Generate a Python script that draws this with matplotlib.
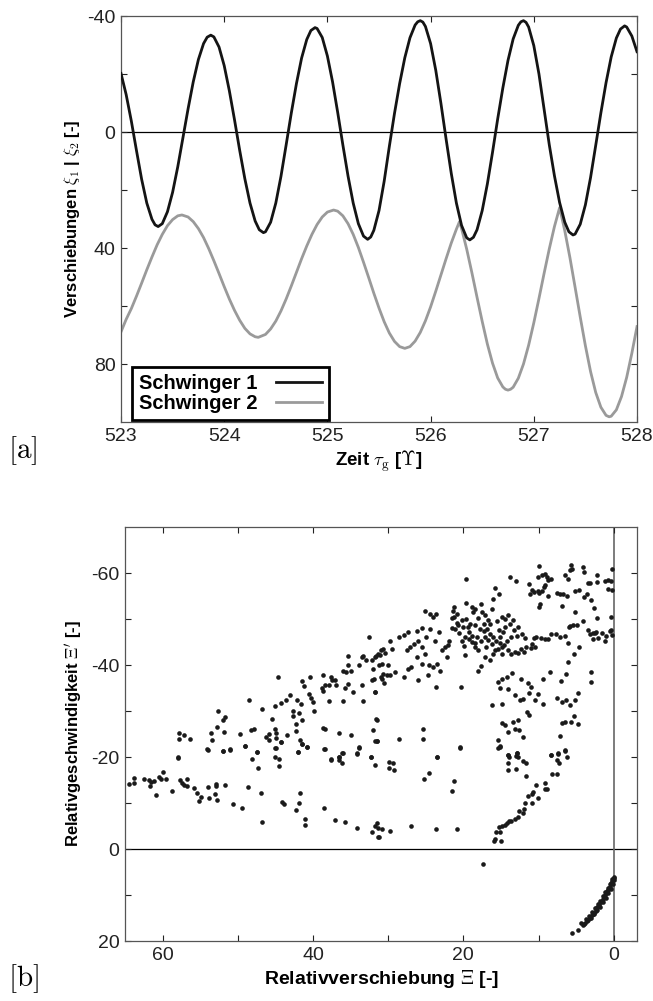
import numpy as np
import matplotlib
matplotlib.use("Agg")
import matplotlib.pyplot as plt

plt.rcParams["font.family"] = ["Liberation Sans", "DejaVu Sans"]
plt.rcParams["mathtext.fontset"] = "cm"

# --- panel a: displacements of both oscillators over time ---
t = [523.00, 523.05, 523.10, 523.15, 523.20, 523.25, 523.30, 523.33, 523.36, 523.40, 523.45,
     523.50, 523.55, 523.60, 523.65, 523.70, 523.75, 523.80, 523.835, 523.87, 523.90, 523.95,
     524.00, 524.05, 524.10, 524.15, 524.20, 524.25, 524.30, 524.34, 524.38, 524.40, 524.45,
     524.50, 524.55, 524.60, 524.65, 524.70, 524.75, 524.80, 524.84, 524.88, 524.90, 524.95,
     525.00, 525.05, 525.10, 525.15, 525.20, 525.25, 525.30, 525.35, 525.39, 525.42, 525.45,
     525.50, 525.55, 525.60, 525.65, 525.70, 525.75, 525.80, 525.85, 525.875, 525.90, 525.925, 525.95,
     526.00, 526.05, 526.10, 526.15, 526.20, 526.25, 526.30, 526.35, 526.38, 526.415, 526.45,
     526.50, 526.55, 526.60, 526.65, 526.70, 526.75, 526.80, 526.85, 526.875, 526.90, 526.925, 526.95,
     527.00, 527.05, 527.10, 527.15, 527.20, 527.25, 527.30, 527.34, 527.38, 527.40, 527.45,
     527.50, 527.55, 527.60, 527.65, 527.70, 527.75, 527.80, 527.84, 527.88, 527.90, 527.95,
     528.00]

xi1 = [-20.2, -12.9, -3.8, 6.4, 16.3, 24.5, 30.1, 32.0, 32.6, 31.6, 27.5,
       20.8, 12.0, 2.0, -8.0, -17.3, -25.0, -30.5, -32.7, -33.4, -32.8, -29.3,
       -22.9, -14.2, -4.2, 6.3, 16.1, 24.5, 30.7, 33.7, 34.7, 34.4, 31.1,
       24.5, 15.3, 4.5, -6.5, -16.7, -25.5, -31.9, -35.0, -36.0, -35.7, -32.6,
       -26.2, -17.3, -6.7, 4.5, 15.2, 24.5, 31.6, 35.9, 37.0, 36.2, 33.9,
       27.1, 17.0, 5.0, -6.4, -16.7, -25.6, -32.5, -36.9, -38.0, -38.4, -37.9, -36.4,
       -30.5, -21.3, -9.9, 2.4, 14.2, 24.5, 32.2, 36.5, 37.2, 36.3, 33.7,
       27.1, 17.9, 7.0, -4.5, -15.2, -24.7, -32.1, -36.8, -38.0, -38.4, -37.8, -36.2,
       -29.8, -20.0, -7.8, 4.4, 15.1, 24.3, 31.1, 34.4, 35.5, 35.2, 31.8,
       25.1, 15.7, 4.6, -6.6, -17.0, -25.9, -32.4, -35.5, -36.6, -36.2, -33.1,
       -27.7]

t2 = [523.00, 523.05, 523.10, 523.15, 523.20, 523.25, 523.30, 523.35, 523.40, 523.45,
      523.50, 523.55, 523.59, 523.65, 523.70, 523.75, 523.80, 523.85, 523.90, 523.95,
      524.00, 524.05, 524.10, 524.15, 524.20, 524.25, 524.30, 524.33, 524.40, 524.45,
      524.50, 524.55, 524.60, 524.65, 524.70, 524.75, 524.80, 524.85, 524.90, 524.95,
      525.00, 525.06, 525.10, 525.15, 525.20, 525.25, 525.30, 525.35, 525.40, 525.45,
      525.50, 525.55, 525.60, 525.65, 525.70, 525.75, 525.80, 525.85, 525.90, 525.95,
      526.00, 526.05, 526.10, 526.15, 526.20, 526.25, 526.28, 526.30, 526.35, 526.40,
      526.45, 526.50, 526.55, 526.60, 526.65, 526.70, 526.725, 526.75, 526.775, 526.80,
      526.85, 526.90, 526.95, 527.00, 527.05, 527.10, 527.15, 527.20, 527.25, 527.30,
      527.35, 527.40, 527.45, 527.50, 527.55, 527.60, 527.65, 527.70, 527.73, 527.75,
      527.80, 527.85, 527.90, 527.95, 528.00]

xi2 = [68.9, 64.6, 60.9, 56.6, 52.1, 47.5, 43.1, 38.9, 35.3, 32.3,
       30.2, 28.9, 28.6, 29.3, 30.9, 33.3, 36.4, 40.2, 44.4, 48.8,
       53.3, 57.6, 61.5, 64.9, 67.7, 69.6, 70.6, 70.8, 69.8, 67.9,
       65.2, 61.7, 57.6, 53.1, 48.4, 43.7, 39.3, 35.3, 31.9, 29.3,
       27.6, 26.9, 27.3, 28.9, 31.6, 35.3, 39.8, 44.9, 50.2, 55.6,
       60.7, 65.4, 69.3, 72.2, 74.0, 74.6, 74.0, 72.1, 69.1, 65.1,
       60.3, 54.9, 49.3, 43.7, 38.3, 33.5, 30.9, 33.3, 40.4, 48.5,
       57.0, 65.3, 73.1, 79.7, 84.8, 87.9, 88.7, 89.0, 88.7, 88.0,
       84.9, 80.0, 73.5, 65.8, 57.4, 48.7, 40.3, 32.6, 26.1, 34.0,
       43.3, 53.5, 63.8, 73.7, 82.6, 89.8, 94.9, 97.7, 98.2, 98.0,
       95.8, 91.2, 84.6, 76.3, 67.1]

# --- panel b: phase plot relative displacement vs relative velocity ---
upper_band = [
    (32.5, -46.1), (44.7, -37.4), (48.5, -32.3), (46.8, -30.4), (52.6, -30.0), (52.0, -28.0),
    (51.7, -28.8), (52.7, -26.6), (51.8, -25.5), (53.5, -25.3), (53.4, -23.6), (57.8, -25.3),
    (57.8, -24.0), (57.2, -24.8), (56.4, -24.0), (54.1, -21.7), (51.9, -21.4), (51.0, -21.7),
    (58.0, -19.9), (49.7, -25.0), (49.0, -22.4), (48.2, -25.8), (47.8, -26.0), (47.4, -21.1),
    (46.3, -24.4), (45.9, -23.8), (45.8, -24.9), (45.5, -28.2), (45.0, -31.1), (44.3, -31.7),
    (43.6, -32.5), (43.0, -33.4), (45.0, -26.2), (44.9, -25.3), (44.9, -24.2), (44.9, -22.0),
    (44.2, -23.3), (43.4, -24.8), (42.6, -30.0), (42.6, -28.9), (41.8, -29.6), (41.6, -31.6),
    (42.1, -32.5), (42.2, -27.2), (42.3, -25.7), (41.5, -28.1), (41.4, -36.6), (41.2, -35.4),
    (40.4, -37.4), (40.5, -33.8), (40.2, -32.9), (40.0, -32.0), (39.8, -30.0), (41.7, -23.7),
    (41.5, -22.9), (40.8, -22.2), (42.0, -21.1), (38.7, -37.9), (38.8, -34.9), (38.7, -34.3),
    (38.4, -35.6), (37.9, -35.6), (37.6, -37.3), (37.1, -36.8), (36.9, -35.6), (37.4, -36.7),
    (37.9, -32.1), (38.7, -26.4), (38.4, -26.1), (38.4, -21.7), (36.5, -25.3), (36.0, -38.8),
    (35.6, -38.5), (35.4, -42.0), (35.3, -39.9), (34.9, -38.8), (35.7, -35.0), (35.4, -35.9),
    (36.0, -32.1), (35.0, -24.8), (34.7, -34.1), (33.9, -40.1), (33.5, -41.7), (33.3, -41.9),
    (32.9, -41.2), (33.5, -35.6), (33.3, -32.1), (32.2, -41.2), (32.0, -39.1), (32.2, -36.7),
    (31.9, -37.0), (31.8, -34.2), (31.6, -41.9), (31.3, -42.5), (30.9, -43.2), (30.7, -43.4),
    (31.2, -39.9), (30.8, -40.3), (30.9, -37.3), (30.7, -38.0), (31.6, -28.2), (32.0, -25.8),
    (31.5, -23.5), (36.5, -19.9), (36.0, -20.9), (37.6, -19.6), (34.1, -20.8), (33.9, -22.1),
    (32.3, -19.9),
    (31.7, -41.7), (31.1, -42.1), (30.4, -42.6), (29.7, -45.3), (29.5, -43.5), (30.0, -39.9),
    (30.2, -37.8), (29.7, -37.8), (29.1, -38.5), (28.6, -46.1), (27.9, -46.6), (27.3, -47.1),
    (27.5, -43.2), (27.1, -43.9), (26.6, -44.6), (26.0, -45.3), (25.5, -43.9), (25.1, -42.5),
    (26.2, -41.7), (26.9, -39.6), (25.5, -40.3), (24.6, -39.9), (24.0, -39.6), (23.5, -40.3),
    (23.1, -38.8), (22.9, -43.2), (22.4, -43.9), (22.0, -44.3), (22.2, -41.7), (23.3, -47.1),
    (24.4, -47.9), (25.5, -48.1), (26.2, -47.5), (24.9, -46.1), (23.8, -45.3), (26.0, -36.7),
    (24.7, -37.8), (27.3, -39.2), (27.9, -37.4), (30.8, -37.0), (30.6, -36.0),
]

dense_band = [
    (18.9, -52.6), (18.7, -51.5), (18.5, -52.2), (17.6, -53.3), (17.5, -51.5), (17.1, -50.8),
    (16.7, -49.7), (16.2, -52.2), (16.0, -54.4), (15.8, -56.8), (15.3, -55.5), (14.9, -50.4),
    (14.5, -50.0), (14.0, -50.8), (13.8, -49.0), (13.4, -49.7), (12.7, -48.2), (12.9, -46.4),
    (13.6, -46.1), (14.2, -45.3), (14.9, -43.9), (15.8, -43.2), (16.2, -44.6), (16.7, -45.5),
    (17.1, -46.1), (17.6, -45.3), (18.0, -43.2), (18.5, -43.9), (18.9, -45.0), (19.3, -45.7),
    (19.8, -46.1), (20.0, -48.2), (20.7, -48.6), (21.1, -47.9), (20.9, -49.1), (20.2, -49.7),
    (19.6, -50.0), (19.1, -49.0), (18.5, -48.6), (17.8, -47.9), (17.3, -47.5), (16.8, -47.9),
    (16.5, -46.8), (16.0, -46.1), (15.6, -45.3), (15.1, -46.1), (14.7, -47.1), (19.2, -47.1),
    (18.8, -46.4), (18.2, -46.1), (21.5, -50.3), (21.2, -50.5), (21.9, -45.3), (21.5, -48.1),
    (20.2, -45.3), (21.3, -52.7), (21.4, -51.7), (19.8, -42.1), (17.1, -41.7), (16.5, -41.0),
    (17.6, -39.7), (18.0, -38.8), (20.3, -35.2), (23.7, -35.2), (25.1, -51.8), (24.4, -51.1),
    (24.0, -50.4), (23.7, -51.0), (19.6, -58.8),
    (19.4, -48.3), (18.1, -50.2), (17.2, -49.0), (16.4, -48.9), (15.5, -49.6), (15.2, -47.6),
    (14.4, -48.3), (13.3, -47.7), (12.2, -46.8), (11.8, -45.9), (20.6, -46.9), (19.9, -44.2),
    (18.4, -44.8), (17.0, -44.0), (16.1, -42.4), (14.8, -42.4), (20.8, -51.2), (19.7, -53.4),
    (9.9, -61.6), (5.7, -61.8), (5.5, -60.9), (5.8, -60.7), (4.1, -61.4), (4.0, -60.2),
    (2.2, -59.6), (0.2, -60.9), (10.1, -59.2), (9.6, -59.6), (9.1, -59.8), (8.9, -59.1),
    (8.8, -58.5), (9.1, -57.4), (9.3, -56.9), (9.6, -56.2), (8.3, -58.7), (6.5, -59.5),
    (6.1, -58.8), (13.8, -59.2), (13.0, -58.2), (11.2, -57.6), (10.8, -56.4), (10.6, -55.8),
    (10.1, -56.0), (10.0, -55.6), (11.1, -55.4), (7.6, -55.6), (7.1, -55.5), (6.7, -55.5),
    (6.2, -55.1), (5.2, -56.0), (4.6, -56.4), (3.4, -57.8), (3.1, -57.8), (2.2, -58.0),
    (1.2, -58.3), (0.8, -58.4), (0.4, -58.3), (0.8, -56.5), (0.2, -56.3), (8.7, -54.9),
    (9.8, -53.3), (10.0, -52.6), (6.9, -52.8), (5.2, -51.6), (4.0, -54.7), (3.0, -54.2),
    (2.6, -52.3), (2.2, -50.3), (3.6, -55.5), (0.3, -50.4),
    (5.8, -48.4), (4.9, -48.8), (4.1, -49.5), (3.4, -47.7), (2.7, -47.0), (2.3, -47.1),
    (1.6, -47.0), (1.0, -46.3), (0.5, -47.5), (0.3, -47.7), (0.2, -46.6), (1.2, -45.3),
    (2.1, -45.9), (2.7, -45.7), (2.5, -47.0), (3.1, -46.7), (7.7, -46.8), (7.2, -46.1),
    (6.5, -46.3), (6.0, -48.2), (5.4, -48.8), (4.6, -44.0), (6.1, -44.8), (8.3, -46.8),
    (8.7, -45.6), (9.2, -45.6), (9.7, -45.8), (10.3, -46.1), (10.6, -45.9), (10.9, -44.5),
    (10.5, -44.0), (11.0, -43.7), (11.6, -44.0), (12.3, -43.5), (11.9, -42.8), (12.7, -42.6),
    (13.1, -42.8), (13.7, -42.3), (14.0, -43.2), (14.6, -44.3), (15.1, -44.8), (15.4, -43.5),
]

inner_loops = [
    (15.4, -36.3), (14.9, -37.0), (14.2, -37.5), (15.1, -34.9), (14.0, -34.7), (13.5, -38.3),
    (12.3, -37.0), (11.4, -36.1), (11.0, -35.2), (11.3, -33.9), (12.0, -32.7), (13.1, -33.4),
    (12.5, -32.3), (10.1, -33.6), (10.5, -32.5), (9.4, -31.6), (8.5, -38.5), (9.4, -37.0),
    (7.5, -32.9), (6.9, -32.0), (6.3, -32.3), (5.8, -31.3), (5.2, -32.5), (4.7, -34.0),
    (6.3, -38.1), (6.1, -40.6), (5.3, -42.5), (7.0, -36.5), (3.0, -38.5), (3.0, -36.3),
    (16.2, -31.3), (14.8, -31.5), (11.5, -29.8), (11.2, -29.1), (14.9, -27.3), (14.5, -26.9),
    (14.0, -25.5), (13.4, -27.7), (12.7, -28.0), (13.1, -26.0), (12.6, -25.8), (12.0, -24.3),
    (15.4, -23.8), (15.1, -22.1), (14.0, -20.4), (12.9, -20.8), (12.7, -20.1), (6.9, -27.3),
    (6.5, -27.7), (5.7, -27.7), (5.3, -28.9), (4.7, -27.1), (7.1, -24.5), (8.4, -20.4),
    (7.4, -20.9), (6.5, -21.5), (31.5, -28.0), (31.5, -23.5), (28.5, -24.0), (25.4, -26.0),
    (25.4, -23.9), (23.5, -19.9), (20.5, -22.1), (31.7, -34.2),
]

lower_band = [
    (64.5, -14.2), (63.8, -15.5), (63.8, -14.4), (62.5, -15.3), (61.8, -14.9), (61.7, -13.8),
    (61.5, -14.6), (61.2, -14.7), (60.9, -11.7), (60.5, -15.7), (60.2, -15.2), (59.9, -16.7),
    (59.6, -15.3), (58.8, -12.7), (58.0, -19.8), (57.7, -14.9), (57.4, -14.4), (57.1, -14.0),
    (56.7, -15.2), (56.8, -13.7), (55.8, -13.3), (55.4, -12.1), (55.2, -10.5), (54.9, -11.3),
    (53.9, -13.4), (53.8, -11.2), (54.0, -21.6), (52.9, -14.2), (52.9, -13.6), (53.0, -11.9),
    (52.7, -10.6), (51.9, -21.3), (51.0, -21.6), (51.7, -14.0), (50.6, -9.7), (49.5, -9.0),
    (49.1, -22.3), (48.7, -13.4), (48.1, -19.6), (47.5, -21.0), (47.3, -17.7), (46.9, -12.1),
    (46.8, -5.8), (45.0, -21.9), (45.0, -20.0), (44.5, -19.6), (44.5, -18.1), (44.1, -10.2),
    (43.9, -9.7), (44.2, -23.2), (42.3, -8.5), (42.0, -21.0), (41.9, -10.1), (41.7, -12.1),
    (41.4, -22.9), (41.1, -6.6), (41.0, -5.3), (40.8, -22.2), (38.5, -21.7), (38.5, -8.9),
    (37.6, -19.4), (37.1, -6.4), (36.6, -19.4), (36.5, -19.9), (36.1, -18.7), (36.1, -20.9),
    (35.7, -5.9), (34.1, -20.7), (33.9, -22.0), (34.1, -4.5), (32.3, -19.9), (31.8, -18.3),
    (32.2, -3.8), (31.7, -5.0), (31.5, -5.6), (31.3, -4.6), (31.3, -2.6), (30.8, -4.3),
    (31.7, -23.4), (31.2, -2.7), (29.8, -3.9), (26.9, -5.1), (23.7, -4.3), (20.8, -4.3),
    (29.9, -19.0), (29.4, -18.6), (29.9, -17.6), (29.2, -17.1), (25.2, -15.2), (24.5, -16.6),
    (23.5, -20.0), (21.2, -14.7), (21.5, -12.6), (20.5, -22.0),
]

return_branch = [
    (15.9, -1.8), (15.8, -2.2), (15.6, -3.6), (15.3, -4.7), (15.1, -3.6), (15.0, -1.7),
    (14.8, -5.0), (14.4, -5.2), (14.2, -5.7), (13.9, -6.1), (13.6, -6.1), (13.1, -6.5),
    (12.7, -6.9), (12.6, -8.3), (12.0, -7.9), (11.9, -8.8), (11.8, -10.1), (11.4, -11.5),
    (10.9, -11.9), (10.7, -12.3), (10.8, -9.9), (10.1, -11.2), (10.3, -13.9), (9.2, -14.3),
    (8.9, -13.1), (9.1, -13.1), (8.2, -16.4), (7.6, -16.4), (8.4, -20.4), (7.4, -20.7),
    (7.5, -19.4), (7.3, -18.8), (6.5, -21.4), (6.2, -20.1), (15.4, -21.9), (15.1, -22.4),
    (14.1, -20.4), (13.9, -19.9), (14.1, -18.6), (14.1, -17.2), (13.0, -17.5), (13.0, -20.2),
    (12.8, -20.9), (12.0, -19.1), (11.7, -18.8), (11.7, -15.8), (17.4, 3.2),
]

sticking_arc = [
    (5.6, 18.3), (4.7, 17.5), (4.1, 16.5), (3.9, 16.2), (3.8, 16.0), (3.6, 15.7),
    (3.4, 15.4), (3.2, 15.0), (3.1, 14.7), (2.9, 14.4), (2.7, 14.1), (2.6, 13.8),
    (2.4, 13.4), (2.3, 13.0), (2.2, 12.6), (2.0, 12.3), (1.9, 11.9), (1.7, 11.5),
    (1.5, 11.2), (1.4, 10.8), (1.3, 10.5), (1.1, 10.0), (1.0, 9.6), (0.9, 9.2),
    (0.8, 8.9), (0.6, 8.5), (0.5, 8.2), (0.4, 7.7), (0.3, 7.3), (0.2, 6.9),
    (0.1, 6.6), (0.0, 6.3), (0.0, 6.0),
    (4.3, 16.1), (3.7, 15.2), (3.3, 14.5), (2.9, 13.7), (2.5, 12.9), (2.1, 12.0),
    (1.8, 11.3), (1.4, 10.3), (1.1, 9.4), (0.8, 8.4), (0.5, 7.5), (0.2, 6.5),
    (3.0, 14.9), (2.6, 14.2), (2.2, 13.3), (1.8, 12.5), (1.4, 11.6), (1.0, 10.6),
    (0.7, 9.6), (0.4, 8.6), (0.1, 7.5), (-0.1, 6.8),
]

fig = plt.figure(figsize=(6.53, 10.01), dpi=100)

# ---- panel a ----
ax1 = fig.add_axes([0.1853, 0.5784, 0.7902, 0.4056])
ax1.axhline(0, color="black", lw=0.9, zorder=1)
l1, = ax1.plot(t, xi1, color="#141414", lw=2.0, label="Schwinger 1", zorder=3,
               solid_joinstyle="round")
l2, = ax1.plot(t2, xi2, color="#9a9a9a", lw=2.0, label="Schwinger 2", zorder=2,
               solid_joinstyle="round")
ax1.set_xlim(523, 528)
ax1.set_ylim(100, -40)
ax1.set_xticks([523, 524, 525, 526, 527, 528])
ax1.set_yticks([-40, -20, 0, 20, 40, 60, 80])
ax1.set_yticklabels(["-40", "", "0", "", "40", "", "80"])
ax1.tick_params(direction="in", length=4, width=0.8, top=True, right=True,
                labelsize=14, colors="#222222", pad=4)
ax1.set_xlabel(r"Zeit $\tau_\mathrm{g}$ [$\Upsilon$]", fontsize=13.5, fontweight="bold", labelpad=3)
ax1.set_ylabel(r"Verschiebungen $\xi_1$ | $\xi_2$ [-]", fontsize=12, fontweight="bold", labelpad=4)
for sp in ax1.spines.values():
    sp.set_color("#555555")
    sp.set_linewidth(0.9)
leg = ax1.legend(handles=[l1, l2], loc="lower left", bbox_to_anchor=(0.021, 0.005),
                 borderaxespad=0, markerfirst=False, fancybox=False, framealpha=1,
                 edgecolor="black", prop={"weight": "bold", "size": 14.5},
                 handlelength=2.3, handletextpad=0.9, borderpad=0.35, labelspacing=0.05)
leg.get_frame().set_linewidth(2.0)

# ---- panel b ----
ax2 = fig.add_axes([0.1914, 0.0599, 0.7841, 0.4136])
ax2.axhline(0, color="black", lw=0.9, zorder=1)
ax2.axvline(0, color="#666666", lw=1.2, zorder=1)
for group in [upper_band, dense_band, inner_loops, lower_band, return_branch, sticking_arc]:
    pts = np.array(group)
    ax2.scatter(pts[:, 0], pts[:, 1], s=11, color="#1a1a1a", linewidths=0, zorder=3)
ax2.set_xlim(65, -3.1)
ax2.set_ylim(20, -70)
ax2.set_xticks([60, 50, 40, 30, 20, 10, 0])
ax2.set_xticklabels(["60", "", "40", "", "20", "", "0"])
ax2.set_yticks([-60, -50, -40, -30, -20, -10, 0, 10, 20])
ax2.set_yticklabels(["-60", "", "-40", "", "-20", "", "0", "", "20"])
ax2.tick_params(direction="in", length=4, width=0.8, top=True, right=True,
                labelsize=14, colors="#222222", pad=4)
ax2.set_xlabel(r"Relativverschiebung $\Xi$ [-]", fontsize=14, fontweight="bold", labelpad=3)
ax2.set_ylabel(r"Relativgeschwindigkeit $\Xi'$ [-]", fontsize=12, fontweight="bold", labelpad=4)
for sp in ax2.spines.values():
    sp.set_color("#555555")
    sp.set_linewidth(0.9)

fig.text(0.012, 0.542, r"$[\mathrm{a}]$", fontsize=21)
fig.text(0.012, 0.015, r"$[\mathrm{b}]$", fontsize=21)

fig.savefig("out.png", dpi=100)
